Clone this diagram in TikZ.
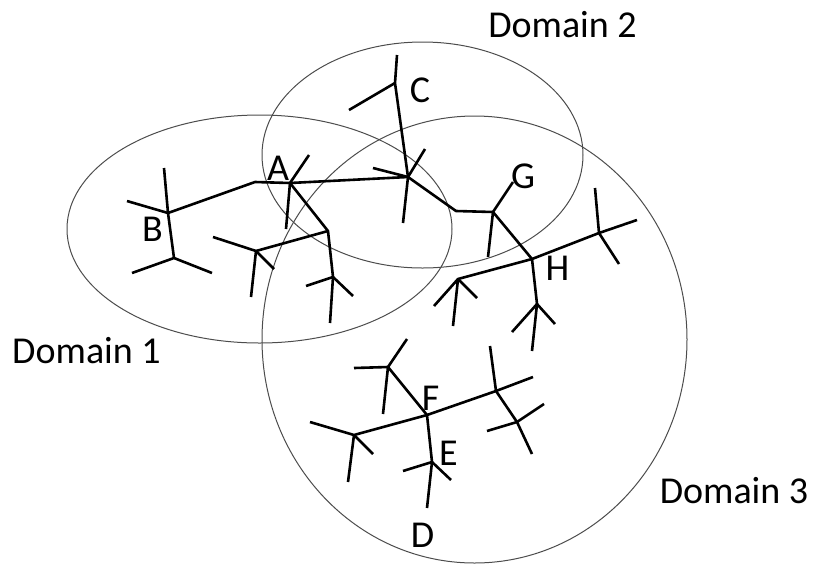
\documentclass[tikz,border=0pt]{standalone}
\usepackage{fontspec}
\setmainfont{Carlito}
\begin{document}
\begin{tikzpicture}[x=1pt,y=-1pt,
  domainring/.style={draw=black!70, line width=1pt},
  branch/.style={draw=black, line width=2.6pt, line join=round},
  tag/.style={anchor=base, inner sep=0pt, font=\fontsize{38}{40}\selectfont}]
\useasboundingbox (0,0) rectangle (827,566);

% the three domains
\draw[domainring] (259.5,229) ellipse [x radius=192.5pt, y radius=114pt];
\draw[domainring] (422.5,155) ellipse [x radius=160.5pt, y radius=113pt];
\draw[domainring] (474.5,339.5) ellipse [x radius=212.5pt, y radius=223.5pt];

% first tree: junctions and tips
\coordinate (b) at (168,213);   \coordinate (bUp) at (164,168);
\coordinate (bL) at (127,201);  \coordinate (bD) at (174,258);
\coordinate (bDL) at (132,273); \coordinate (bDR) at (212,273);
\coordinate (bk1) at (255,182);
\coordinate (a) at (290,183);   \coordinate (aUR) at (309,155);
\coordinate (aD) at (286,229);  \coordinate (p1) at (328,231);
\coordinate (q) at (256,251);   \coordinate (qL) at (213,237);
\coordinate (qD) at (251,297);  \coordinate (qDR) at (274,269);
\coordinate (r) at (333,277);   \coordinate (rL) at (306,286);
\coordinate (rR) at (353,296);  \coordinate (rD) at (330,323);
\coordinate (c) at (408,177);   \coordinate (cK) at (395,83);
\coordinate (cTop) at (397,55); \coordinate (cL) at (349,110);
\coordinate (cUR) at (425,149); \coordinate (cLa) at (373,168);
\coordinate (cD) at (403,223);  \coordinate (bk2) at (456,211);
\coordinate (g) at (493,212);   \coordinate (gUR) at (513,182);
\coordinate (gD) at (488,257);
\coordinate (h) at (532,259);
\coordinate (s) at (458,279);   \coordinate (sL) at (434,306);
\coordinate (sD) at (453,326);  \coordinate (sR) at (477,298);
\coordinate (t) at (599,233);   \coordinate (tUp) at (595,188);
\coordinate (tR) at (637,220);  \coordinate (tDR) at (619,264);
\coordinate (u) at (537,304);   \coordinate (uL) at (512,332);
\coordinate (uR) at (555,324);  \coordinate (uD) at (532,351);

% second tree
\coordinate (f) at (427,415);
\coordinate (v) at (388,367);   \coordinate (vL) at (354,368);
\coordinate (vUR) at (407,339); \coordinate (vD) at (383,414);
\coordinate (w) at (354,435);   \coordinate (wL) at (310,422);
\coordinate (wD) at (348,482);  \coordinate (wDR) at (373,454);
\coordinate (x1) at (496,391);  \coordinate (xR) at (533,377);
\coordinate (xUp) at (490,346);
\coordinate (y1) at (517,422);  \coordinate (yL) at (487,431);
\coordinate (yR) at (544,404);  \coordinate (yD) at (532,454);
\coordinate (e) at (432,462);   \coordinate (eL) at (403,471);
\coordinate (eDR) at (451,480); \coordinate (eD) at (427,508);

% first tree branches
\draw[branch] (bUp) -- (b) -- (bD);
\draw[branch] (bL) -- (b) -- (bk1) -- (a) -- (c);
\draw[branch] (bDL) -- (bD) -- (bDR);
\draw[branch] (aUR) -- (a) -- (aD);
\draw[branch] (a) -- (p1) -- (r) -- (rD);
\draw[branch] (p1) -- (q);
\draw[branch] (qL) -- (q) -- (qD);
\draw[branch] (q) -- (qDR);
\draw[branch] (rL) -- (r) -- (rR);
\draw[branch] (cTop) -- (cK) -- (c) -- (cD);
\draw[branch] (cK) -- (cL);
\draw[branch] (cLa) -- (c) -- (cUR);
\draw[branch] (c) -- (bk2) -- (g) -- (h) -- (u) -- (uD);
\draw[branch] (gUR) -- (g) -- (gD);
\draw[branch] (uL) -- (u) -- (uR);
\draw[branch] (s) -- (h) -- (t) -- (tR);
\draw[branch] (tUp) -- (t) -- (tDR);
\draw[branch] (sL) -- (s) -- (sD);
\draw[branch] (s) -- (sR);

% second tree branches
\draw[branch] (vUR) -- (v) -- (f) -- (e) -- (eD);
\draw[branch] (vL) -- (v) -- (vD);
\draw[branch] (wL) -- (w) -- (f) -- (x1) -- (xR);
\draw[branch] (w) -- (wD);
\draw[branch] (w) -- (wDR);
\draw[branch] (xUp) -- (x1) -- (y1) -- (yD);
\draw[branch] (yL) -- (y1) -- (yR);
\draw[branch] (eL) -- (e) -- (eDR);

% labels
\node[tag] (lA) at (278,180) {A};
\node[tag] (lB) at (152.5,241.5) {B};
\node[tag] (lC) at (420,102) {C};
\node[tag] (lG) at (523,188) {G};
\node[tag] (lH) at (557.5,280) {H};
\node[tag] (lF) at (430.5,410) {F};
\node[tag] (lE) at (448.5,465) {E};
\node[tag] (lD) at (422.5,547) {D};
\node[tag] (d1) at (86.5,363) {Domain 1};
\node[tag] (d2) at (562.5,37) {Domain 2};
\node[tag] (d3) at (734,503) {Domain 3};
\end{tikzpicture}
\end{document}
